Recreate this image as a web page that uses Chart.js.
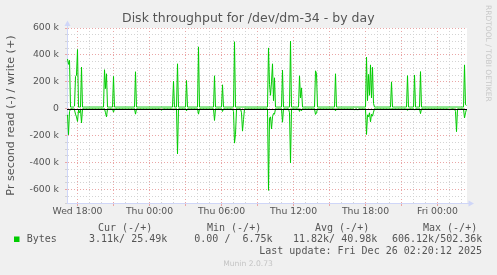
<!DOCTYPE html>
<html><head><meta charset="utf-8">
<script src="https://cdn.jsdelivr.net/npm/chart.js@4/dist/chart.umd.min.js"></script>
<style>html,body{margin:0;padding:0;background:#f0f0f0;overflow:hidden}canvas{display:block}</style>
</head><body>
<canvas id="c" width="497" height="275"></canvas>
<script>
// ---- data (bytes per second, in k) : 5-minute samples, Wed 17:07 .. Fri 02:27 ----
const writeK = [
370,330,360,13,13,13,13,20,240,250,440,13,13,13,310,13,13,13,13,13,
13,13,13,13,13,13,13,13,13,13,13,13,13,13,13,13,13,290,150,260,
13,13,13,13,13,13,240,13,13,13,13,13,13,13,13,13,13,13,13,13,
13,13,13,13,13,13,13,13,275,13,13,13,13,13,13,13,13,13,13,13,
13,13,13,13,13,13,13,13,13,13,13,13,13,13,13,13,13,13,13,13,
13,13,13,13,13,13,205,13,13,13,334,13,13,13,13,13,13,13,13,210,
13,13,13,13,13,13,13,13,13,13,13,460,13,13,13,13,13,13,13,13,
13,13,13,13,13,13,13,245,13,13,13,13,13,13,13,178,13,13,13,13,
13,13,13,13,13,13,13,498,13,13,13,13,13,13,13,13,13,13,13,13,
13,13,13,13,13,13,13,13,13,13,13,13,13,13,13,13,13,13,13,13,
13,452,180,100,200,334,60,230,13,13,13,13,13,13,13,287,13,13,13,13,
13,13,13,502.4,13,13,13,13,13,13,13,13,245,80,155,13,13,13,13,13,
13,13,13,13,13,13,13,13,282,262,13,13,13,13,13,13,13,13,13,13,
13,13,13,13,13,13,13,13,260,13,13,13,13,13,13,13,13,13,13,13,
13,13,13,13,13,13,13,13,13,13,13,13,13,13,13,13,13,13,13,384,
60,255,100,326,80,308,40,13,13,13,13,13,13,13,13,13,13,13,13,13,
13,13,13,13,200,13,13,13,13,13,13,13,13,13,13,13,13,13,13,13,
246,13,13,13,13,13,13,251,13,13,13,13,13,276,13,13,13,13,13,13,
13,13,13,13,13,13,13,13,13,13,13,13,13,13,13,13,13,13,13,13,
13,13,13,13,13,13,13,13,13,13,13,13,13,13,13,13,13,326,30,25.5
];
const readK = [
-45,-193,-20,-0.5,-0.5,-0.5,-0.5,-10,-40,-60,-94,-10,-30,-5,-105,-0.5,-0.5,-0.5,-0.5,-0.5,
-0.5,-0.5,-0.5,-0.5,-0.5,-0.5,-0.5,-0.5,-0.5,-0.5,-0.5,-0.5,-0.5,-0.5,-0.5,-0.5,-0.5,-0.5,-30,-60,
-0.5,-0.5,-0.5,-0.5,-0.5,-0.5,-25,-0.5,-0.5,-0.5,-0.5,-0.5,-0.5,-0.5,-0.5,-0.5,-0.5,-0.5,-0.5,-0.5,
-0.5,-0.5,-0.5,-0.5,-0.5,-0.5,-0.5,-0.5,-40,-0.5,-0.5,-0.5,-0.5,-0.5,-0.5,-0.5,-0.5,-0.5,-0.5,-0.5,
-0.5,-0.5,-0.5,-0.5,-0.5,-0.5,-0.5,-0.5,-0.5,-0.5,-0.5,-0.5,-0.5,-0.5,-12,-0.5,-0.5,-0.5,-0.5,-0.5,
-0.5,-0.5,-0.5,-0.5,-0.5,-0.5,-10,-0.5,-0.5,-0.5,-335,-0.5,-0.5,-0.5,-0.5,-0.5,-0.5,-0.5,-0.5,-15,
-0.5,-0.5,-0.5,-0.5,-0.5,-0.5,-0.5,-0.5,-0.5,-0.5,-0.5,-40,-0.5,-0.5,-0.5,-0.5,-0.5,-0.5,-0.5,-0.5,
-0.5,-0.5,-0.5,-0.5,-0.5,-0.5,-0.5,-87,-0.5,-0.5,-0.5,-0.5,-0.5,-0.5,-0.5,-20,-0.5,-0.5,-0.5,-0.5,
-0.5,-0.5,-0.5,-0.5,-0.5,-0.5,-20,-255,-190,-0.5,-0.5,-0.5,-0.5,-0.5,-30,-166,-80,-0.5,-0.5,-0.5,
-0.5,-0.5,-0.5,-0.5,-0.5,-0.5,-0.5,-0.5,-0.5,-0.5,-0.5,-0.5,-0.5,-0.5,-0.5,-0.5,-0.5,-0.5,-0.5,-0.5,
-0.5,-606.1,-70,-60,-150,-60,-35,-40,-0.5,-0.5,-0.5,-0.5,-0.5,-0.5,-0.5,-100,-0.5,-0.5,-0.5,-0.5,
-0.5,-0.5,-30,-403,-0.5,-0.5,-0.5,-0.5,-0.5,-0.5,-0.5,-0.5,-20,-0.5,-15,-0.5,-0.5,-0.5,-0.5,-0.5,
-0.5,-0.5,-0.5,-0.5,-0.5,-0.5,-0.5,-0.5,-42,-30,-0.5,-0.5,-0.5,-0.5,-0.5,-0.5,-0.5,-0.5,-0.5,-0.5,
-0.5,-0.5,-0.5,-0.5,-0.5,-0.5,-0.5,-0.5,-15,-0.5,-0.5,-0.5,-0.5,-0.5,-0.5,-0.5,-0.5,-0.5,-0.5,-0.5,
-0.5,-0.5,-0.5,-0.5,-0.5,-0.5,-0.5,-10,-0.5,-0.5,-10,-0.5,-0.5,-0.5,-0.5,-0.5,-0.5,-0.5,-0.5,-191,
-45,-60,-30,-97,-40,-55,-25,-0.5,-0.5,-0.5,-0.5,-0.5,-0.5,-0.5,-0.5,-0.5,-0.5,-0.5,-0.5,-0.5,
-0.5,-0.5,-0.5,-0.5,-0.5,-0.5,-0.5,-0.5,-0.5,-0.5,-0.5,-0.5,-0.5,-0.5,-0.5,-0.5,-0.5,-0.5,-0.5,-0.5,
-12,-0.5,-0.5,-0.5,-0.5,-0.5,-0.5,-10,-0.5,-0.5,-0.5,-0.5,-0.5,-36,-0.5,-0.5,-0.5,-0.5,-0.5,-0.5,
-0.5,-0.5,-0.5,-0.5,-0.5,-0.5,-0.5,-0.5,-0.5,-0.5,-0.5,-0.5,-0.5,-0.5,-0.5,-0.5,-0.5,-0.5,-0.5,-0.5,
-0.5,-0.5,-10,-0.5,-0.5,-0.5,-0.5,-0.5,-20,-170,-0.5,-0.5,-0.5,-0.5,-0.5,-0.5,-0.5,-68,-30,-3.1
];
// time axis (hours counted from Wed 00:00)
const X_MIN = 17.125, X_MAX = 17.125 + 400 / 12, STEP_H = 5 / 60;
const xGridHours = [18,19,20,21,22,23,24,25,26,27,28,29,30,31,32,33,34,35,36,37,38,39,40,41,42,43,44,45,46,47,48,49,50];
const xTickHours = [18,24,30,36,42,48];
const xTickLabels = ['Wed 18:00','Thu 00:00','Thu 06:00','Thu 12:00','Thu 18:00','Fri 00:00'];
const yGridK = [-700,-650,-600,-550,-500,-450,-400,-350,-300,-250,-200,-150,-100,-50,0,50,100,150,200,250,300,350,400,450,500,550,600];
const yTickK = [-600,-400,-200,0,200,400,600];
const yTickLabels = ['-600 k','-400 k','-200 k','0','200 k','400 k','600 k'];
const statHeaders = ['Cur (-/+)','Min (-/+)','Avg (-/+)','Max (-/+)'];
const statValues = ['3.11k/ 25.49k','0.00 /  6.75k','11.82k/ 40.98k','606.12k/502.36k'];
const seriesName = 'Bytes';
const chartTitle = 'Disk throughput for /dev/dm-34 - by day';
const lastUpdate = 'Last update: Fri Dec 26 02:20:12 2025';

const SANS = "'DejaVu Sans', sans-serif";
const MONO = "'DejaVu Sans Mono', monospace";
const MAJOR = '#eaa6a6', MINOR = '#d3d3d3', AXIS = '#cfd6f8', TXT = '#555555', GREEN = '#00cc00';

const toPoints = arr => arr.map((v, i) => ({ x: X_MIN + STEP_H / 2 + i * STEP_H, y: v }));

const munin = {
  id: 'munin',
  beforeDraw(chart) {
    const { ctx, chartArea: a } = chart;
    ctx.save();
    ctx.fillStyle = '#f0f0f0';
    ctx.fillRect(0, 0, chart.width, chart.height);
    ctx.fillStyle = '#ffffff';
    ctx.fillRect(a.left, a.top, a.right - a.left, a.bottom - a.top);
    ctx.restore();
  },
  afterDatasetsDraw(chart) {
    const { ctx, chartArea: a, scales } = chart;
    const y0 = Math.round(scales.y.getPixelForValue(0));
    ctx.save();
    ctx.fillStyle = '#000000';
    ctx.fillRect(a.left, y0, a.right - a.left, 1);
    // axis arrows
    ctx.fillStyle = AXIS;
    const ax = a.left + 0.5;
    ctx.fillRect(ax - 0.5, a.top - 3, 1, 3);
    ctx.beginPath();
    ctx.moveTo(ax, a.top - 7.5); ctx.lineTo(ax - 3, a.top - 2); ctx.lineTo(ax + 3, a.top - 2); ctx.closePath(); ctx.fill();
    const ay = a.bottom + 0.5;
    ctx.fillRect(a.right, ay - 0.5, 2, 1);
    ctx.beginPath();
    ctx.moveTo(a.right + 7, ay); ctx.lineTo(a.right + 1.5, ay - 3); ctx.lineTo(a.right + 1.5, ay + 3); ctx.closePath(); ctx.fill();
    ctx.restore();
  },
  afterDraw(chart) {
    const { ctx } = chart;
    ctx.save();
    ctx.textBaseline = 'middle';
    // title
    ctx.fillStyle = TXT;
    ctx.textAlign = 'center';
    ctx.font = '12.5px ' + SANS;
    ctx.fillText(chartTitle, 248.3, 19);
    // legend
    ctx.font = '10px ' + MONO;
    ctx.textAlign = 'left';
    const hx = [98, 207, 315, 423];
    statHeaders.forEach((h, i) => ctx.fillText(h, hx[i], 228));
    const vx = [89, 194.3, 293, 392];
    statValues.forEach((v, i) => ctx.fillText(v, vx[i], 239.5));
    ctx.fillText(seriesName, 26.7, 239.5);
    ctx.textAlign = 'right';
    ctx.fillText(lastUpdate, 482, 251);
    ctx.fillStyle = GREEN;
    ctx.fillRect(14, 236.5, 5.5, 5.5);
    // version
    ctx.textAlign = 'center';
    ctx.fillStyle = '#c4c4c4';
    ctx.font = '7.6px ' + SANS;
    ctx.fillText('Munin 2.0.73', 248, 264);
    // rrdtool credit
    ctx.translate(487.5, 5);
    ctx.rotate(Math.PI / 2);
    ctx.textAlign = 'left';
    ctx.font = '7.5px ' + SANS;
    ctx.fillStyle = '#c8c8c8';
    ctx.fillText('RRDTOOL / TOBI OETIKER', 0, 0);
    ctx.restore();
  }
};

new Chart(document.getElementById('c'), {
  type: 'line',
  data: {
    datasets: [
      { label: 'write', data: toPoints(writeK), borderColor: GREEN, borderWidth: 1, pointRadius: 0, tension: 0, borderJoinStyle: 'bevel', fill: false },
      { label: 'read', data: toPoints(readK), borderColor: GREEN, borderWidth: 1, pointRadius: 0, tension: 0, borderJoinStyle: 'bevel', fill: false }
    ]
  },
  options: {
    responsive: false,
    animation: false,
    events: [],
    layout: { padding: { left: 0, right: 30, top: 28, bottom: 0 } },
    plugins: {
      legend: { display: false },
      tooltip: { enabled: false },
      title: { display: false }
    },
    scales: {
      x: {
        type: 'linear', min: X_MIN, max: X_MAX,
        afterFit: s => { s.height = 72; },
        afterBuildTicks: s => { s.ticks = xGridHours.map(v => ({ value: v })); },
        ticks: {
          autoSkip: false, maxRotation: 0, minRotation: 0, padding: 0.5,
          color: TXT, font: { family: SANS, size: 9.3 },
          callback: v => { const k = xTickHours.indexOf(v); return k >= 0 ? xTickLabels[k] : ''; }
        },
        grid: {
          color: c => (c.tick && c.tick.value % 3 === 0) ? MAJOR : MINOR,
          lineWidth: 1, drawTicks: true, tickLength: 3,
          tickColor: c => (c.tick && c.tick.value % 3 === 0) ? MAJOR : 'rgba(0,0,0,0)'
        },
        border: { display: true, color: AXIS, width: 1, dash: [1, 2] }
      },
      y: {
        type: 'linear', min: -700, max: 600,
        afterFit: s => { s.width = 67; },
        afterBuildTicks: s => { s.ticks = yGridK.map(v => ({ value: v })); },
        ticks: {
          autoSkip: false, padding: 6, color: TXT, font: { family: SANS, size: 9.3 },
          callback: v => { const k = yTickK.indexOf(v); return k >= 0 ? yTickLabels[k] : ''; }
        },
        grid: {
          color: c => (c.tick && c.tick.value % 200 === 0) ? MAJOR : MINOR,
          lineWidth: 1, drawTicks: true, tickLength: 2,
          tickColor: c => (c.tick && c.tick.value % 200 === 0) ? MAJOR : MINOR
        },
        border: { display: true, color: AXIS, width: 1, dash: [1, 2] },
        title: {
          display: true, text: 'Pr second read (-) / write (+)', color: TXT,
          font: { family: SANS, size: 11.2 }, padding: { top: 4, bottom: 0 }
        }
      }
    }
  },
  plugins: [munin]
});
</script>
</body></html>
